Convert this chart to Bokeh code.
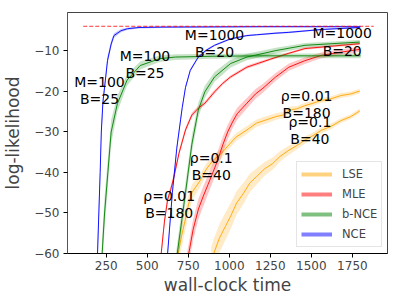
import numpy as np
from bokeh.plotting import figure
from bokeh.models import Range1d, Legend, LegendItem, FixedTicker
from bokeh.core.properties import value
from bokeh.embed import file_html
from bokeh.resources import INLINE

# ---------------- data ----------------
# NCE  M=100 B=25
nce1_x = [190, 197, 205, 213, 220, 230, 238, 258, 280, 297, 340, 380, 450, 600, 900, 1200, 1500, 1800]
nce1_y = [-70, -60, -50, -40, -30, -22.5, -19.7, -12.3, -8.3, -6.2, -5.0, -4.5, -4.2, -4.1, -4.05, -4.0, -4.0, -4.0]
nce1_s = [3, 3, 3, 2.5, 2, 1.5, 1.2, 1.0, 0.8, 0.6, 0.4, 0.3, 0.25, 0.2, 0.2, 0.2, 0.2, 0.2]

# NCE  M=1000 B=20
nce2_x = [615, 624, 653, 680, 703, 713, 733, 762, 811, 860, 910, 1008, 1107, 1166, 1284, 1363, 1560, 1795]
nce2_y = [-66, -60, -45, -34, -27, -24, -19, -14.8, -11.5, -9.8, -8.6, -7.0, -6.2, -6.0, -5.6, -5.4, -4.7, -4.2]
nce2_s = [1, 1, 1, 0.8, 0.7, 0.6, 0.5, 0.4, 0.3, 0.3, 0.25, 0.2, 0.2, 0.2, 0.2, 0.2, 0.2, 0.2]

# b-NCE M=100 B=25
bnce1_x = [218, 225, 240, 260, 280, 318, 377, 457, 575, 672, 900, 1200, 1500, 1800]
bnce1_y = [-68, -60, -50, -40, -30, -23, -17.2, -13.6, -11.9, -11.5, -11.3, -11.2, -11.2, -11.2]
bnce1_s = [4, 4, 4, 3.5, 3, 2, 1.4, 1.0, 0.8, 0.7, 0.6, 0.6, 0.6, 0.6]

# b-NCE M=1000 B=20
bnce2_x = [673, 683, 733, 772, 811, 851, 910, 1008, 1107, 1284, 1461, 1795]
bnce2_y = [-63, -60, -45, -33, -24.6, -20.1, -16.4, -13.1, -11.5, -9.9, -8.6, -7.8]
bnce2_s = [2.5, 2.5, 2.5, 2.2, 1.8, 1.5, 1.2, 1.0, 0.8, 0.7, 0.6, 0.5]

# MLE rho=0.01 B=180
mle1_x = [575, 585, 605, 624, 643, 663, 693, 733, 772, 812, 851, 910, 960, 1008, 1107, 1180, 1245, 1360, 1461, 1600, 1795]
mle1_y = [-64, -60, -52, -46.7, -44.2, -41, -35.3, -29.5, -25.8, -24.1, -22.9, -20.1, -18.0, -16.4, -14.0, -13.0, -12.1, -10.6, -9.4, -8.9, -8.2]
mle1_s = [1.2, 1.2, 1.0, 1.0, 0.9, 0.9, 0.8, 0.7, 0.6, 0.6, 0.5, 0.5, 0.4, 0.4, 0.4, 0.4, 0.3, 0.3, 0.3, 0.3, 0.3]

# MLE rho=0.1 B=40
mle2_x = [740, 753, 780, 812, 840, 870, 900, 930, 960, 990, 1020, 1048, 1107, 1160, 1205, 1280, 1363, 1460, 1560, 1680, 1795]
mle2_y = [-63, -60, -54, -49, -46, -43, -40, -36.9, -33.2, -30, -27.5, -25.5, -22.9, -20.6, -19.2, -16.5, -14.0, -12.4, -11.1, -10.3, -9.6]
mle2_s = [2.6, 2.6, 2.6, 2.5, 2.5, 2.4, 2.3, 2.2, 2.0, 1.8, 1.6, 1.5, 1.3, 1.2, 1.1, 1.0, 0.9, 0.8, 0.7, 0.7, 0.6]

# LSE rho=0.01 B=180
lse1_x = [678, 689, 710, 730, 752, 772, 795, 821, 860, 900, 945, 990, 1040, 1107, 1166, 1225, 1284, 1330, 1363, 1410, 1460, 1510, 1560, 1620, 1680, 1740, 1795]
lse1_y = [-64, -60, -55.5, -52, -47.8, -45, -43.6, -42.1, -39.2, -37, -35.6, -33.5, -31.3, -29.5, -27.8, -27.0, -26.2, -25.8, -24.6, -24.3, -23.5, -22.9, -22.2, -21.8, -21.0, -20.6, -19.9]
lse1_s = [3.0, 3.0, 2.8, 2.6, 2.3, 2.0, 1.8, 1.6, 1.4, 1.3, 1.2, 1.1, 1.0, 1.0, 0.9, 0.9, 0.8, 0.8, 0.8, 0.7, 0.7, 0.7, 0.6, 0.6, 0.6, 0.6, 0.6]

# LSE rho=0.1 B=40
lse2_x = [890, 905, 940, 975, 1008, 1045, 1087, 1125, 1166, 1215, 1264, 1310, 1363, 1410, 1460, 1510, 1560, 1620, 1680, 1740, 1795]
lse2_y = [-62, -60, -56.2, -53.4, -50.8, -47.5, -45.1, -42.6, -41.0, -39.1, -37.8, -36.0, -34.5, -33.4, -32.0, -30.9, -29.6, -28.6, -27.2, -26.2, -24.8]
lse2_s = [3.6, 3.6, 3.5, 3.4, 3.2, 2.9, 2.6, 2.3, 2.0, 1.7, 1.5, 1.3, 1.1, 1.0, 0.9, 0.8, 0.7, 0.7, 0.6, 0.6, 0.6]

# true log-likelihood reference (dashed)
ref_x = [110, 1880]
ref_y = [-3.9, -3.9]

# annotations
ann_x = [209, 486, 910, 1688, 634, 890, 1471, 1491]
ann_y = [-19.7, -13.3, -8.2, -7.8, -47.9, -38.6, -23.3, -29.7]
ann_text = ["M=100\nB=25", "M=100\nB=25", "M=1000\nB=20", "M=1000\nB=20",
            "ρ=0.01\nB=180", "ρ=0.1\nB=40", "ρ=0.01\nB=180", "ρ=0.1\nB=40"]

legend_labels = ["LSE", "MLE", "b-NCE", "NCE"]
x_ticks = [250, 500, 750, 1000, 1250, 1500, 1750]
y_ticks = [-60, -50, -40, -30, -20, -10]

# ---------------- figure ----------------
FONT = "DejaVu Sans"
p = figure(width=391, height=297, output_backend="svg", toolbar_location=None,
           x_range=Range1d(14, 1964), y_range=Range1d(-60, -0.5),
           min_border_left=57, min_border_right=4, min_border_top=12, min_border_bottom=43)
p.xgrid.visible = False
p.ygrid.visible = False
p.outline_line_color = "#444444"
p.outline_line_width = 1
p.background_fill_color = "white"
p.border_fill_color = "white"

series = [
    (lse1_x, lse1_y, lse1_s, "orange"),
    (lse2_x, lse2_y, lse2_s, "orange"),
    (mle1_x, mle1_y, mle1_s, "red"),
    (mle2_x, mle2_y, mle2_s, "red"),
    (bnce1_x, bnce1_y, bnce1_s, "green"),
    (bnce2_x, bnce2_y, bnce2_s, "green"),
    (nce1_x, nce1_y, nce1_s, "blue"),
    (nce2_x, nce2_y, nce2_s, "blue"),
]
for xs, ys, ss, c in series:
    xa = np.array(xs, dtype=float)
    ya = np.array(ys, dtype=float)
    sa = np.array(ss, dtype=float)
    p.varea(x=xa, y1=ya - sa, y2=ya + sa, fill_color=c, fill_alpha=0.22)
    p.line(xa, ya, line_color=c, line_width=1, line_alpha=0.9)

p.line(ref_x, ref_y, line_color="red", line_dash="4 2", line_width=1, line_alpha=0.8)

p.text(x=ann_x, y=ann_y, text=ann_text, text_align="center", text_baseline="middle",
       text_font=value(FONT), text_font_size="14px", text_color="black", text_line_height=1.08)

# legend with placeholder (NaN) thick semi-transparent lines
leg_colors = ["orange", "red", "green", "blue"]
items = []
for lab, c in zip(legend_labels, leg_colors):
    r = p.line([np.nan, np.nan], [np.nan, np.nan], line_color=c, line_width=4, line_alpha=0.5)
    items.append(LegendItem(label=lab, renderers=[r]))
legend = Legend(items=items, location=(229, 6), margin=0, padding=4, spacing=4,
                glyph_width=31, glyph_height=16, label_height=16, label_standoff=10,
                label_text_font=FONT, label_text_font_size="11.5px",
                border_line_color="#cccccc", border_line_width=1,
                background_fill_alpha=0.8)
p.add_layout(legend, "center")

# axes
for ax in (p.xaxis[0], p.yaxis[0]):
    ax.major_label_text_font = FONT
    ax.major_label_text_font_size = "12px"
    ax.axis_label_text_font = FONT
    ax.axis_label_text_font_size = "17px"
    ax.axis_label_text_font_style = "normal"
    ax.major_tick_out = 4
    ax.major_tick_in = 0
    ax.minor_tick_out = 0
    ax.minor_tick_in = 0

p.xaxis.major_label_standoff = 3
p.yaxis.major_label_standoff = 4
p.xaxis.ticker = FixedTicker(ticks=x_ticks)
p.yaxis.ticker = FixedTicker(ticks=y_ticks)
p.xaxis.major_label_overrides = {t: str(t) for t in x_ticks}
p.yaxis.major_label_overrides = {t: "\u2212" + str(abs(t)) for t in y_ticks}
p.xaxis.axis_label = "wall-clock time"
p.yaxis.axis_label = "log-likelihood"
p.xaxis.axis_label_standoff = 2
p.yaxis.axis_label_standoff = 8
p.xaxis.axis_line_color = "black"
p.yaxis.axis_line_color = "#555555"

open("out.html", "w").write(file_html(p, INLINE))
